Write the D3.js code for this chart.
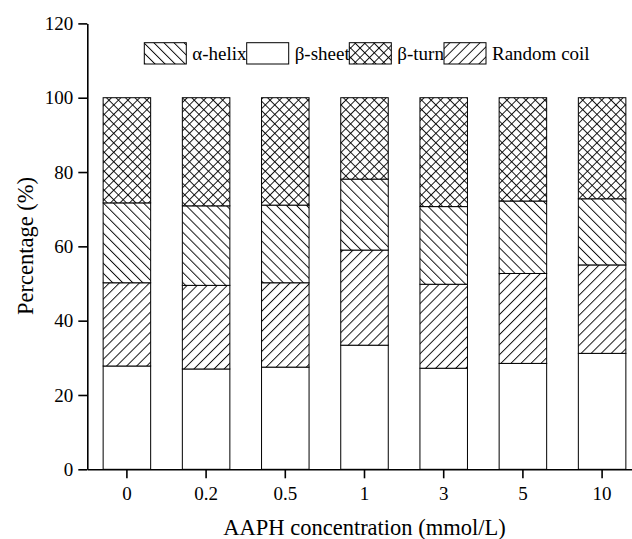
<!DOCTYPE html>
<html><head><meta charset="utf-8">
<script src="https://cdn.jsdelivr.net/npm/d3@7"></script>
<style>
html,body{margin:0;padding:0;background:#fff;}
svg{display:block;}
text{font-family:"Liberation Serif","Times New Roman",serif;}
</style></head>
<body><svg id="c" width="632" height="539" font-family="Liberation Serif, Times New Roman, serif"></svg>
<script>
const categories = ["0","0.2","0.5","1","3","5","10"];
const betaSheet   = [27.8, 27.0, 27.5, 33.4, 27.2, 28.5, 31.2];
const randomCoil  = [22.4, 22.5, 22.7, 25.6, 22.6, 24.2, 23.8];
const alphaHelix  = [21.5, 21.4, 20.9, 19.1, 20.9, 19.5, 17.8];
const betaTurn    = [28.3, 29.1, 28.9, 21.9, 29.3, 27.8, 27.2];
const yTicks = [0, 20, 40, 60, 80, 100, 120];
const seriesNames = ["β-sheet","Random coil","α-helix","β-turn"];
const legendOrder = ["α-helix","β-sheet","β-turn","Random coil"];

const FONT = "Liberation Serif, Times New Roman, serif";
const svg = d3.select("#c");
const L = 87.3, B = 469.3, T = 23.4, R = 641.7;

const defs = svg.append("defs");
function hatch(id, angle, s, cross) {
  const p = defs.append("pattern").attr("id", id)
    .attr("patternUnits", "userSpaceOnUse").attr("width", s).attr("height", s)
    .attr("patternTransform", "rotate(" + angle + ")");
  p.append("rect").attr("width", s).attr("height", s).attr("fill", "#fff");
  p.append("line").attr("x1", 0.5).attr("y1", 0).attr("x2", 0.5).attr("y2", s)
    .attr("stroke", "#000").attr("stroke-width", 0.9);
  if (cross) p.append("line").attr("x1", 0).attr("y1", 0.5).attr("x2", s).attr("y2", 0.5)
    .attr("stroke", "#000").attr("stroke-width", 0.9);
}
hatch("p-helix", -45, 7.1, false);
hatch("p-coil", 45, 7.1, false);
hatch("p-turn", 45, 6.7, true);

const fills = {"β-sheet":"#fff","Random coil":"url(#p-coil)","α-helix":"url(#p-helix)","β-turn":"url(#p-turn)"};

const x = d3.scaleBand().domain(categories).range([L, R]).paddingInner(0.4).paddingOuter(0.2);
const y = d3.scaleLinear().domain([0, 120]).range([B, T]);

const rows = categories.map((c, i) => ({cat: c, "β-sheet": betaSheet[i], "Random coil": randomCoil[i], "α-helix": alphaHelix[i], "β-turn": betaTurn[i]}));
const stacked = d3.stack().keys(seriesNames)(rows);

const g = svg.append("g");
stacked.forEach(s => {
  g.selectAll(null).data(s).enter().append("rect")
    .attr("x", d => x(d.data.cat)).attr("width", x.bandwidth())
    .attr("y", d => y(d[1])).attr("height", d => y(d[0]) - y(d[1]))
    .attr("fill", fills[s.key]).attr("stroke", "#000").attr("stroke-width", 1);
});

// axes
const ya = svg.append("g").attr("transform", `translate(${L},0)`)
  .call(d3.axisLeft(y).tickValues(yTicks).tickSize(9).tickSizeOuter(0).tickPadding(5));
const xa = svg.append("g").attr("transform", `translate(0,${B})`)
  .call(d3.axisBottom(x).tickSize(9).tickSizeOuter(0).tickPadding(8));
[ya, xa].forEach(a => {
  a.attr("font-family", FONT).attr("font-size", 19);
  a.selectAll("path,line").attr("stroke", "#000").attr("stroke-width", 1.6);
  a.selectAll("text").attr("fill", "#000").attr("font-family", FONT).attr("font-size", 19);
});

svg.append("text").attr("x", 364.5).attr("y", 535).attr("text-anchor", "middle")
  .attr("font-family", FONT).attr("font-size", 22.5).text("AAPH concentration (mmol/L)");
svg.append("text").attr("transform", "translate(33,246) rotate(-90)").attr("text-anchor", "middle")
  .attr("font-family", FONT).attr("font-size", 22.5).text("Percentage (%)");

// legend
const legX = [144.3, 246.7, 349.3, 444];
const lg = svg.append("g");
legendOrder.forEach((name, i) => {
  lg.append("rect").attr("x", legX[i]).attr("y", 42.7).attr("width", 42).attr("height", 21.3)
    .attr("fill", fills[name]).attr("stroke", "#000").attr("stroke-width", 1);
  lg.append("text").attr("x", legX[i] + 48).attr("y", 59.5)
    .attr("font-family", FONT).attr("font-size", 19).text(name);
});
</script></body></html>
